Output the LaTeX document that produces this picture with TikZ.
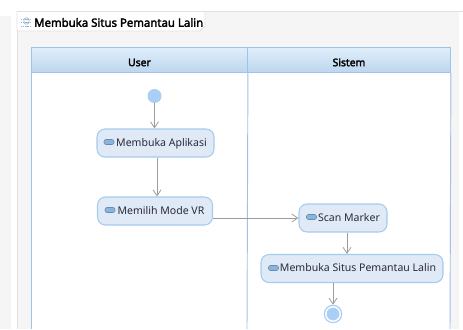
\documentclass[tikz,border=0pt]{standalone}
\usepackage{fontspec}
\setmainfont{Noto Sans}
\newfontfamily\heavyfont[FakeBold=2.6]{Noto Sans}
\usetikzlibrary{arrows.meta}
\definecolor{panel}{HTML}{F5F5F5}
\definecolor{laneblue}{HTML}{A0C2E8}
\definecolor{headtop}{HTML}{E0EEFB}
\definecolor{headbot}{HTML}{BDD6EE}
\definecolor{actfill}{HTML}{E0EAF6}
\definecolor{actline}{HTML}{A5CBEE}
\definecolor{dotfill}{HTML}{A9CFF5}
\definecolor{edgegray}{HTML}{9C9C9C}
\definecolor{inktext}{HTML}{2A2A3A}
\definecolor{pillfill}{HTML}{8DB4D8}
\definecolor{pillline}{HTML}{5F8FB8}
\tikzset{
  activity/.style={draw=actline,fill=actfill,line width=0.8pt,rounded corners=6pt,minimum height=21pt,inner sep=0pt,text height=6.2pt,text depth=1pt,font=\fontsize{7.9pt}{10pt}\selectfont,text=inktext},
  lanehead/.style={draw=laneblue,line width=0.7pt,top color=headtop,bottom color=headbot,minimum height=18.75pt,inner sep=0pt,text height=10.3pt,text depth=1pt,font=\heavyfont\fontsize{7.8pt}{10pt}\selectfont,text=black},
  flow/.style={draw=edgegray,line width=0.6pt,-{Straight Barb[length=4.5pt,width=6pt]}},
  pill/.style={draw=pillline,fill=pillfill,line width=0.4pt,rounded corners=1.5pt},
  startdot/.style={circle,fill=dotfill,inner sep=0pt,minimum size=10.5pt},
  enddot/.style={circle,draw=dotfill,fill=white,line width=0.9pt,inner sep=0pt,minimum size=13pt}
}
\begin{document}
\begin{tikzpicture}[x=0.75pt,y=-0.75pt]
\useasboundingbox (0,0) rectangle (463,329);
\fill[white] (0,0) rectangle (463,329);
\fill[panel] (0,16) rectangle (11,329);
\fill[panel] (17,11) rectangle (459,329);
\draw[black!12,line width=0.6pt] (17,329) -- (17,11) -- (463,11);
% tab
\draw[black!12,fill=white,line width=0.6pt] (17,11.5) -- (205,11.5) -- (205,26) -- (200,31) -- (17,31) -- cycle;
\node[anchor=west,inner sep=0pt,font=\heavyfont\fontsize{8.55pt}{10pt}\selectfont,text=black] (title) at (34,22.5) {Membuka Situs Pemantau Lalin};
\foreach \yy in {19,22.5,26}{\draw[laneblue!80!gray,line width=0.5pt,dash pattern=on 1pt off 0.6pt] (21,\yy) -- (31,\yy);}
\draw[laneblue!80!gray,line width=0.5pt,rounded corners=1pt] (24,18) rectangle (29,24);
% lanes
\fill[white] (31,72) rectangle (450,329);
\node[lanehead,minimum width=162pt,anchor=north west] (user) at (31,47) {User};
\node[lanehead,minimum width=152.25pt,anchor=north west] (sistem) at (247,47) {Sistem};
\draw[laneblue,line width=0.7pt] (user.south west) -- (31,329);
\draw[laneblue,line width=0.7pt] (user.south east) -- (247,329);
\draw[laneblue,line width=0.7pt] (sistem.south east) -- (450,329);
% nodes
\node[startdot] (start) at (154.5,96) {};
\node[activity,minimum width=87.75pt] (a1) at (155.5,143) {\hspace*{9pt}Membuka Aplikasi};
\node[activity,minimum width=86.25pt] (a2) at (155,211) {\hspace*{9pt}Memilih Mode VR};
\node[activity,minimum width=66pt] (a3) at (343,218) {\hspace*{9pt}Scan Marker};
\node[activity,minimum width=136.5pt] (a4) at (352,268.5) {\hspace*{9pt}Membuka Situs Pemantau Lalin};
\node[enddot] (end) at (333,314) {};
\fill[dotfill] (end.center) circle (4.8pt);
% icons
\foreach \ix/\iy in {104/142,105/210,306.5/217,268.5/268}{
  \draw[pill] (\ix,\iy-2.5) rectangle (\ix+10,\iy+2.5);
}
% connectors
\coordinate (x1) at (157,0);
\coordinate (x2) at (347,0);
\coordinate (x3) at (333,0);
\coordinate (y1) at (0,218);
\draw[flow] (start) -- (a1.north -| start);
\draw[flow] (a1.south -| x1) -- (a2.north -| x1);
\draw[flow] (a2.east |- y1) -- (a3.west);
\draw[flow] (a3.south -| x2) -- (a4.north -| x2);
\draw[flow] (a4.south -| x3) -- (end.north -| x3);
\end{tikzpicture}
\end{document}
